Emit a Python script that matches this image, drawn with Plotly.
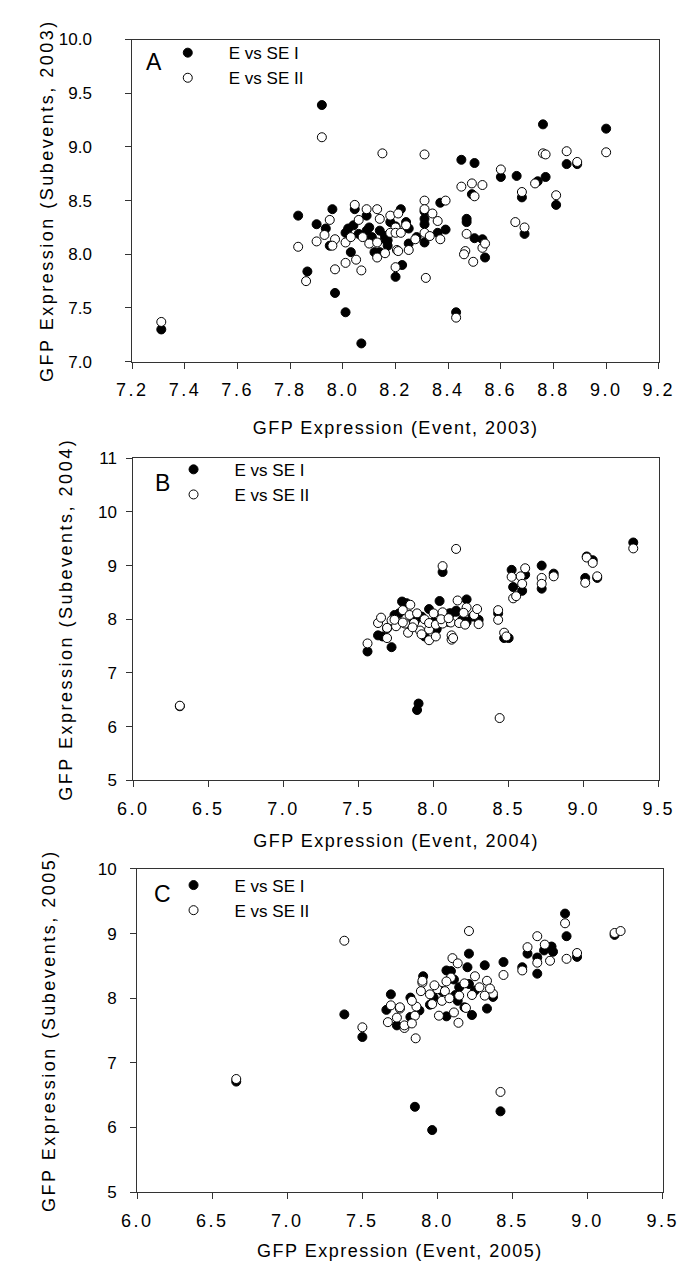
import plotly.graph_objects as go

# ---------------- data ----------------
# Panel A (2003)
a_se1 = [(7.31,7.30),(7.92,9.39),(7.83,8.36),(7.865,7.84),(7.97,7.64),(8.01,7.46),(8.07,7.17),(7.96,8.42),
         (7.90,8.28),(7.935,8.24),(7.95,8.08),(8.01,8.20),(8.03,8.02),(8.045,8.42),(8.04,8.27),(8.09,8.22),
         (8.10,8.25),(8.11,8.16),(8.14,8.22),(8.09,8.36),(8.16,8.14),(8.17,8.08),(8.12,8.02),(8.14,8.02),
         (8.22,8.42),(8.225,7.90),(8.20,7.79),(8.16,8.17),(8.17,8.13),(8.25,8.10),(8.28,8.16),(8.25,8.24),
         (8.31,8.11),(8.31,8.33),(8.31,8.28),(8.31,8.40),(8.36,8.20),(8.39,8.23),(8.37,8.48),(8.45,8.88),
         (8.50,8.85),(8.60,8.72),(8.66,8.73),(8.74,8.68),(8.77,8.72),(8.76,9.21),(9.00,9.17),(8.85,8.84),
         (8.89,8.84),(8.81,8.46),(8.68,8.53),(8.69,8.19),(8.47,8.33),(8.47,8.30),(8.49,8.56),(8.50,8.15),
         (8.53,8.14),(8.54,7.97),(8.43,7.46),(8.24,8.30),(8.20,8.26),(8.18,8.30),(8.06,8.19),(8.02,8.24)]
a_se2 = [(7.31,7.37),(7.92,9.09),(8.15,8.94),(8.31,8.93),(7.83,8.07),(7.86,7.75),(7.90,8.12),(7.93,8.18),
         (7.95,8.32),(7.97,8.14),(7.96,8.08),(7.97,7.86),(8.01,7.92),(8.01,8.11),(8.03,8.16),(8.05,7.95),
         (8.07,7.85),(8.045,8.46),(8.06,8.32),(8.075,8.16),(8.09,8.42),(8.10,8.10),(8.13,7.97),(8.13,8.42),
         (8.14,8.33),(8.13,8.11),(8.16,8.01),(8.18,8.36),(8.20,8.25),(8.18,8.20),(8.20,8.20),(8.22,8.20),
         (8.21,8.38),(8.20,7.88),(8.205,8.04),(8.315,7.78),(8.43,7.41),(8.45,8.63),(8.49,8.66),(8.53,8.645),
         (8.50,8.54),(8.60,8.79),(8.68,8.58),(8.73,8.66),(8.76,8.94),(8.77,8.93),(8.85,8.96),(8.89,8.86),
         (9.00,8.95),(8.81,8.55),(8.655,8.30),(8.69,8.25),(8.39,8.50),(8.31,8.50),(8.31,8.42),(8.34,8.38),
         (8.36,8.31),(8.31,8.20),(8.37,8.14),(8.33,8.17),(8.47,8.19),(8.465,8.03),(8.46,8.00),(8.495,7.93),
         (8.53,8.06),(8.54,8.10),(8.275,8.14),(8.25,8.04),(8.21,8.03),(8.24,8.27)]

# Panel B (2004)
b_se1 = [(6.31,6.38),(7.56,7.40),(7.63,7.70),(7.72,7.48),(7.79,8.33),(7.74,8.03),(7.77,8.11),(7.89,6.31),
         (7.90,6.43),(8.06,8.88),(9.33,9.43),(9.02,9.17),(9.06,9.10),(9.01,8.77),(9.09,8.77),(8.80,8.85),
         (8.72,9.00),(8.72,8.57),(8.61,8.83),(8.59,8.53),(8.52,8.92),(8.53,8.60),(8.43,8.11),(8.47,7.65),
         (8.50,7.65),(8.30,7.99),(8.22,8.37),(8.04,8.34),(7.97,8.19),(8.02,7.81),(8.15,8.16),(8.115,8.11),
         (8.19,7.99),(7.66,7.68),(7.94,7.68),(8.02,7.84),(7.74,8.08),(7.88,7.99),(8.105,8.11),(8.15,8.14),
         (7.85,7.90),(7.92,8.05),(8.26,8.05),(8.22,7.95),(7.82,8.30),(8.00,7.95),(8.10,7.95)]
b_se2 = [(6.31,6.39),(7.56,7.55),(8.15,9.31),(8.06,8.99),(8.44,6.16),(9.33,9.32),(9.02,9.15),(9.06,9.05),
         (9.01,8.68),(9.09,8.80),(8.80,8.80),(8.72,8.77),(8.72,8.66),(8.61,8.95),(8.58,8.80),(8.59,8.66),
         (8.52,8.79),(8.53,8.39),(8.55,8.43),(8.43,8.17),(8.43,7.99),(8.47,7.75),(8.485,7.68),(8.12,7.62),
         (8.12,7.70),(8.16,8.35),(7.63,7.93),(7.65,8.03),(7.69,7.65),(7.69,7.83),(7.72,7.98),(7.75,7.87),
         (7.795,8.17),(7.81,7.92),(7.83,7.75),(7.84,8.08),(7.845,8.27),(7.87,7.93),(7.89,8.11),(7.91,7.79),
         (7.94,8.00),(7.97,7.81),(7.97,7.61),(7.97,7.93),(8.00,8.11),(8.015,7.90),(8.015,7.68),(8.06,8.13),
         (8.06,7.92),(8.13,7.65),(8.115,7.94),(8.17,7.93),(8.21,7.90),(8.22,8.22),(8.20,8.12),(8.27,8.08),
         (8.29,8.19),(8.30,7.91),(7.74,7.99),(7.795,7.94),(7.69,7.84),(8.05,8.00),(8.10,8.02),(7.92,7.72),
         (7.86,7.85)]

# Panel C (2005)
c_se1 = [(6.66,6.71),(7.38,7.75),(7.50,7.40),(7.69,8.06),(7.66,7.82),(7.73,7.58),(7.85,6.32),(7.965,5.96),
         (8.42,6.25),(8.85,9.31),(8.86,8.96),(9.18,8.98),(8.93,8.64),(8.76,8.80),(8.77,8.72),(8.71,8.74),
         (8.665,8.38),(8.665,8.63),(8.60,8.69),(8.565,8.48),(8.44,8.56),(8.315,8.51),(8.21,8.69),(8.20,8.48),
         (8.33,7.84),(8.23,7.74),(8.37,8.02),(8.06,8.43),(7.905,8.34),(7.82,8.01),(7.82,7.71),(8.06,7.72),
         (8.135,7.96),(7.975,8.01),(8.11,8.29),(8.145,8.17),(8.21,8.22),(8.03,8.11),(8.18,7.86),(7.88,7.81),
         (8.09,8.42),(8.25,8.12),(7.95,7.90),(8.12,8.05)]
c_se2 = [(6.66,6.75),(7.38,8.89),(7.50,7.55),(7.69,7.89),(7.67,7.63),(7.75,7.84),(7.73,7.70),(7.78,7.54),
         (8.42,6.55),(8.85,9.16),(9.18,9.01),(9.22,9.04),(8.93,8.70),(8.86,8.61),(8.75,8.58),(8.715,8.83),
         (8.665,8.96),(8.665,8.55),(8.60,8.79),(8.565,8.43),(8.44,8.36),(8.21,9.04),(8.10,8.62),(8.135,8.54),
         (7.855,7.38),(8.14,7.62),(8.25,8.34),(8.33,8.27),(8.37,8.07),(8.28,8.17),(8.315,8.04),(8.23,8.05),
         (8.18,8.23),(8.09,8.32),(8.06,8.26),(8.00,8.14),(7.95,8.06),(7.90,8.24),(7.89,8.11),(7.86,7.87),
         (7.83,7.96),(7.85,7.73),(7.78,7.58),(8.01,7.73),(7.965,7.91),(8.03,7.96),(8.05,8.11),(8.11,7.78),
         (8.145,8.04),(8.19,7.85),(7.90,8.27),(7.75,7.86),(7.83,7.61),(8.35,8.15),(8.08,8.00),(7.98,8.20)]

series_names = ["E vs SE I", "E vs SE II"]
panel_letters = ["A", "B", "C"]
x_titles = ["GFP Expression (Event, 2003)", "GFP Expression (Event, 2004)", "GFP Expression (Event, 2005)"]
y_titles = ["GFP Expression (Subevents, 2003)", "GFP Expression (Subevents, 2004)", "GFP Expression (Subevents, 2005)"]

# ---------------- figure ----------------
W, H = 692, 1275
FONT = "Arial, Liberation Sans, sans-serif"

def px_x(p):
    return p / W

def px_y(p):
    return 1 - p / H

panels = [
    dict(data=(a_se1, a_se2), xr=[7.2, 9.2], xd=0.2, xf=".1f", yr=[7.0, 10.0], yd=0.5, yf=".1f",
         box=(124, 671, 31, 358), ystand=30, ytitle_st=0, xtitle_st=22, leg=(139, 26.5), letter=(147, 54)),
    dict(data=(b_se1, b_se2), xr=[6.0, 9.5], xd=0.5, xf=".1f", yr=[5, 11], yd=1, yf="d",
         box=(125, 671, 456, 783), ystand=6, ytitle_st=20, xtitle_st=16, leg=(145, 449.5), letter=(155, 481)),
    dict(data=(c_se1, c_se2), xr=[6.0, 9.5], xd=0.5, xf=".1f", yr=[5, 10], yd=1, yf="d",
         box=(129, 675, 873, 1201), ystand=10, ytitle_st=37, xtitle_st=14, leg=(145, 871.5), letter=(155, 898)),
]

fig = go.Figure()
fills = ["black", "white"]
legend_ids = ["legend", "legend2", "legend3"]

layout = dict(width=W, height=H, margin=dict(l=0, r=0, t=0, b=0),
              plot_bgcolor="white", paper_bgcolor="white",
              font=dict(family=FONT, size=18, color="black"),
              showlegend=True, annotations=[])

for i, p in enumerate(panels):
    sfx = "" if i == 0 else str(i + 1)
    xa, ya = "x" + sfx, "y" + sfx
    for k, pts in enumerate(p["data"]):
        xs = [q[0] for q in pts]
        ys = [q[1] for q in pts]
        fig.add_trace(go.Scatter(
            x=xs, y=ys, mode="markers", name=series_names[k],
            xaxis=xa, yaxis=ya, legend=legend_ids[i],
            marker=dict(size=9, color=fills[k], line=dict(color="black", width=1)),
        ))
    x0, x1, y0, y1 = p["box"]
    common = dict(showline=True, linecolor="#333", linewidth=1, mirror=True, ticks="outside",
                  ticklen=6, tickwidth=1, tickcolor="#333", showgrid=False, zeroline=False)
    layout["xaxis" + sfx] = dict(common, domain=[px_x(x0), px_x(x1)], range=p["xr"], dtick=p["xd"],
                                 tick0=p["xr"][0], tickformat=p["xf"], anchor=ya,
                                 ticklabelstandoff=6,
                                 tickfont=dict(family=FONT, size=18, color="black"),
                                 title=dict(text=x_titles[i], standoff=p["xtitle_st"],
                                            font=dict(family=FONT, size=18)))
    layout["yaxis" + sfx] = dict(common, domain=[px_y(y1), px_y(y0)], range=p["yr"], dtick=p["yd"],
                                 tick0=p["yr"][0], tickformat=p["yf"], anchor=xa,
                                 ticklabelstandoff=p["ystand"],
                                 tickfont=dict(family=FONT, size=17, color="black"),
                                 title=dict(text=y_titles[i], standoff=p["ytitle_st"],
                                            font=dict(family=FONT, size=18)))
    lx, ly = p["leg"]
    layout[legend_ids[i]] = dict(x=px_x(lx), y=px_y(ly), xanchor="left", yanchor="top",
                                 bgcolor="rgba(0,0,0,0)", borderwidth=0, itemwidth=72,
                                 font=dict(family=FONT, size=17, color="black"))
    ax_, ay_ = p["letter"]
    layout["annotations"].append(dict(text=panel_letters[i], x=px_x(ax_), y=px_y(ay_),
                                      xanchor="center", yanchor="middle",
                                      xref="paper", yref="paper", showarrow=False,
                                      font=dict(family=FONT, size=23, color="black")))

fig.update_layout(**layout)

css = (".xtitle,.x2title,.x3title{letter-spacing:1.5px}"
       ".ytitle,.y2title,.y3title{letter-spacing:2.5px}"
       ".xtick text,.x2tick text,.x3tick text{letter-spacing:2.5px}")
post = "var s=document.createElement('style');s.textContent='" + css + "';document.head.appendChild(s);"

fig.write_html("out.html", config={"displayModeBar": False}, post_script=post)
